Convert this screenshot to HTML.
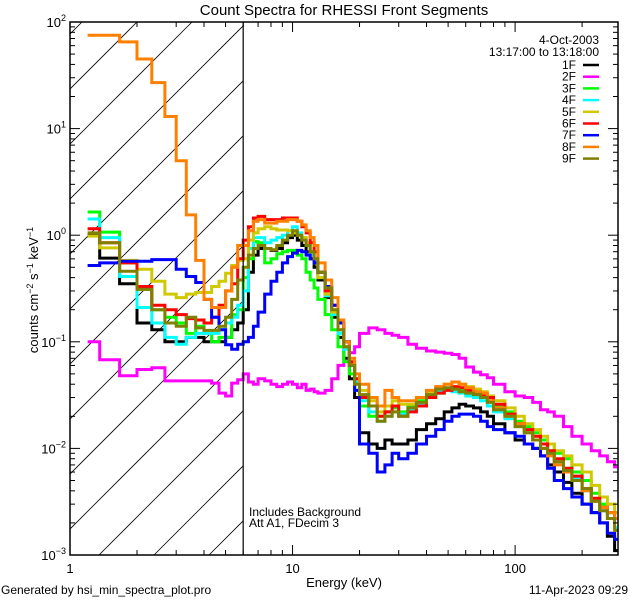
<!DOCTYPE html>
<html><head><meta charset="utf-8"><style>
body{margin:0;background:#fff}
svg text{font-family:"Liberation Sans",sans-serif;fill:#000}
</style></head><body>
<svg id="chart" width="640" height="600" viewBox="0 0 640 600" xmlns="http://www.w3.org/2000/svg">
<rect width="640" height="600" fill="#fff"/>
<text x="344" y="15" font-size="15" text-anchor="middle">Count Spectra for RHESSI Front Segments</text>
<g id="hatch"></g>
<g id="series"></g>
<g id="axes"></g>
<text x="344" y="587" font-size="13" text-anchor="middle">Energy (keV)</text>
<text transform="translate(38,290) rotate(-90)" font-size="13" text-anchor="middle">counts cm<tspan dy="-5" font-size="9">−2</tspan><tspan dy="5"> s</tspan><tspan dy="-5" font-size="9">−1</tspan><tspan dy="5"> keV</tspan><tspan dy="-5" font-size="9">−1</tspan></text>
<text x="599" y="44" font-size="12" text-anchor="end">4-Oct-2003</text>
<text x="599" y="56" font-size="12" text-anchor="end">13:17:00 to 13:18:00</text>
<g id="legend"></g>
<text x="249" y="516" font-size="12">Includes Background</text>
<text x="249" y="527" font-size="12">Att A1, FDecim 3</text>
<text x="1" y="594" font-size="12">Generated by hsi_min_spectra_plot.pro</text>
<text x="628" y="594" font-size="12" text-anchor="end">11-Apr-2023 09:29</text>
</svg>
<script>
const edges=[1.2,1.36,1.67,2.0,2.33,2.67,3.0,3.33,3.67,4.0,4.33,4.67,5.0,5.33,5.67,6.0,6.33,6.67,7,7.5,8,8.5,9,9.5,10,10.5,11,11.5,12,12.5,13,14,15,16,17,18,19,20,22,24,26,28,30,33,36,40,44,48,52,56,60,65,70,75,80,90,100,110,120,130,140,150,165,180,200,220,240,260,280,290];
const names=["1F","2F","3F","4F","5F","6F","7F","8F","9F"];
const colors=["#000000","#ff00ff","#00ff00","#00ffff","#d0c800","#ff0000","#0000ff","#ff8000","#808000"];
const s1F=[1.0,0.61,0.35,0.15,0.13,0.1,0.1,0.11,0.11,0.1,0.1,0.1,0.11,0.13,0.15,
0.2,0.45,0.65,0.75,0.75,0.72,0.75,0.85,0.95,1.0,0.9,0.8,0.7,0.6,0.5,0.38,0.26,0.17,0.11,0.07,0.045,0.03,
0.014,0.011,0.01,0.012,0.011,0.011,0.012,0.015,0.017,0.019,0.022,0.024,0.026,0.025,0.024,0.022,0.02,0.017,0.014,0.012,0.011,0.01,0.0085,0.007,0.006,0.0048,0.0038,0.003,0.0025,0.002,0.0015,0.0011];
const s2F=[0.1,0.068,0.048,0.055,0.057,0.043,0.043,0.043,0.043,0.043,0.041,0.033,0.031,0.041,0.044,
0.05,0.042,0.04,0.045,0.043,0.04,0.038,0.04,0.042,0.04,0.037,0.04,0.035,0.036,0.034,0.033,0.035,0.045,0.06,0.065,0.079,0.09,
0.12,0.135,0.13,0.12,0.115,0.11,0.095,0.087,0.082,0.08,0.078,0.076,0.07,0.058,0.052,0.049,0.046,0.04,0.034,0.031,0.03,0.027,0.023,0.022,0.02,0.016,0.013,0.011,0.0095,0.0085,0.0075,0.0067];
const s3F=[1.65,1.07,0.55,0.31,0.2,0.17,0.15,0.12,0.14,0.12,0.1,0.11,0.11,0.18,0.2,
0.4,0.6,0.87,0.85,0.55,0.6,0.67,0.7,0.72,0.72,0.65,0.6,0.45,0.38,0.32,0.25,0.18,0.13,0.09,0.065,0.05,0.035,
0.025,0.02,0.02,0.022,0.024,0.022,0.025,0.028,0.03,0.033,0.036,0.036,0.035,0.034,0.033,0.03,0.028,0.025,0.022,0.018,0.016,0.014,0.012,0.011,0.009,0.008,0.006,0.005,0.0038,0.003,0.0025,0.0022];
const s4F=[1.42,0.95,0.41,0.21,0.15,0.11,0.095,0.11,0.12,0.12,0.12,0.13,0.15,0.17,0.22,
0.3,0.75,0.95,0.95,0.85,0.9,0.95,1.0,1.1,1.2,1.05,0.95,0.8,0.65,0.55,0.4,0.27,0.18,0.12,0.085,0.06,0.042,
0.028,0.022,0.018,0.02,0.022,0.021,0.023,0.026,0.03,0.034,0.036,0.034,0.033,0.031,0.03,0.028,0.025,0.022,0.019,0.016,0.014,0.012,0.01,0.009,0.0075,0.0062,0.0052,0.004,0.0032,0.0026,0.0022,0.0018];
const s5F=[0.98,0.76,0.58,0.48,0.37,0.28,0.26,0.28,0.29,0.29,0.33,0.37,0.44,0.52,0.58,
0.6,0.9,1.05,1.15,1.2,1.15,1.12,1.12,1.1,1.05,1.0,0.95,0.85,0.7,0.55,0.4,0.28,0.19,0.13,0.09,0.062,0.045,
0.035,0.028,0.022,0.025,0.028,0.026,0.026,0.03,0.033,0.037,0.04,0.042,0.04,0.038,0.036,0.034,0.031,0.028,0.024,0.02,0.017,0.015,0.013,0.011,0.0095,0.0085,0.007,0.006,0.0045,0.0035,0.003,0.0025];
const s6F=[1.15,0.85,0.55,0.33,0.22,0.2,0.18,0.165,0.16,0.15,0.17,0.22,0.3,0.35,0.6,
0.9,1.2,1.45,1.5,1.4,1.4,1.4,1.45,1.45,1.45,1.35,1.2,1.05,0.85,0.7,0.45,0.3,0.22,0.15,0.1,0.065,0.045,
0.03,0.025,0.02,0.022,0.025,0.02,0.022,0.025,0.03,0.033,0.035,0.038,0.037,0.035,0.033,0.032,0.03,0.026,0.021,0.017,0.015,0.013,0.011,0.0095,0.008,0.0065,0.0055,0.0042,0.0034,0.0028,0.0025,0.0022];
const s7F=[0.52,0.55,0.57,0.57,0.59,0.59,0.48,0.41,0.36,0.25,0.17,0.13,0.094,0.085,0.095,
0.1,0.11,0.14,0.19,0.28,0.37,0.45,0.55,0.63,0.68,0.72,0.7,0.65,0.6,0.55,0.45,0.33,0.22,0.15,0.1,0.06,0.035,
0.011,0.009,0.006,0.007,0.009,0.008,0.009,0.011,0.013,0.015,0.018,0.02,0.021,0.021,0.02,0.018,0.016,0.015,0.014,0.013,0.011,0.01,0.0085,0.0065,0.005,0.0042,0.0035,0.003,0.0025,0.002,0.0016,0.0014];
const s8F=[75,75,65,45,27,13,5,1.55,0.58,0.25,0.21,0.21,0.3,0.5,0.8,
0.8,1.1,1.35,1.4,1.3,1.3,1.35,1.35,1.4,1.4,1.35,1.25,1.1,0.95,0.8,0.55,0.38,0.26,0.16,0.1,0.07,0.05,
0.04,0.03,0.025,0.035,0.03,0.028,0.028,0.03,0.035,0.038,0.04,0.042,0.04,0.037,0.034,0.033,0.028,0.024,0.02,0.017,0.014,0.012,0.01,0.0085,0.007,0.006,0.005,0.004,0.0032,0.0028,0.0025,0.0022];
const s9F=[1.05,0.85,0.46,0.31,0.2,0.15,0.14,0.17,0.135,0.128,0.128,0.14,0.17,0.25,0.38,
0.5,0.65,0.75,0.8,0.75,0.73,0.8,0.9,1.0,1.1,1.0,0.9,0.8,0.7,0.6,0.45,0.32,0.2,0.13,0.09,0.06,0.04,
0.032,0.025,0.018,0.02,0.022,0.02,0.024,0.027,0.032,0.036,0.037,0.036,0.034,0.033,0.032,0.03,0.027,0.023,0.02,0.016,0.014,0.012,0.01,0.009,0.0075,0.0062,0.005,0.0042,0.0032,0.0026,0.0022,0.0017];
const seriesData=[s1F,s2F,s3F,s4F,s5F,s6F,s7F,s8F,s9F];
const xTickLabels=["1","10","100"];
const yTickExps=[-3,-2,-1,0,1,2];
const attenEdge=6;

const NS="http://www.w3.org/2000/svg";
const L=70,R=618,T=22,B=555,XMIN=1,XMAX=290,YMIN=-3,YMAX=2;
const xs=e=>L+(R-L)*(Math.log10(e)-Math.log10(XMIN))/(Math.log10(XMAX)-Math.log10(XMIN));
const ys=v=>B-(B-T)*(Math.log10(Math.max(v,1e-4))-YMIN)/(YMAX-YMIN);
function mk(tag,attrs,parent){const el=document.createElementNS(NS,tag);for(const k in attrs)el.setAttribute(k,attrs[k]);parent.appendChild(el);return el;}

// clip
const defs=mk('defs',{},document.getElementById('chart'));
const cp=mk('clipPath',{id:'plotclip'},defs);
mk('rect',{x:L,y:T,width:R-L,height:B-T},cp);
const hp=mk('clipPath',{id:'hatchclip'},defs);
mk('rect',{x:L,y:T,width:xs(attenEdge)-L,height:B-T},hp);

// hatch
const hg=document.getElementById('hatch');
hg.setAttribute('clip-path','url(#hatchclip)');
for(let x0=99-55*10;x0<R;x0+=55){
  const ln=mk('line',{x1:x0,y1:B,x2:x0+(B-T),y2:T,stroke:'#000','stroke-width':0.8},hg);
  
  
}
const vl=mk('line',{x1:xs(attenEdge),y1:T,x2:xs(attenEdge),y2:B,stroke:'#000','stroke-width':1.2},hg.parentNode);



// series
const sg=document.getElementById('series');
sg.setAttribute('clip-path','url(#plotclip)');
seriesData.forEach((vals,i)=>{
  let d='';
  const n=Math.min(vals.length,edges.length-1);
  for(let k=0;k<n;k++){
    const x1=xs(edges[k]).toFixed(1),x2=xs(edges[k+1]).toFixed(1),y=ys(vals[k]).toFixed(1);
    d+=(k===0?'M':'L')+x1+','+y+'L'+x2+','+y;
  }
  const p=mk('path',{d:d,fill:'none',stroke:colors[i],'stroke-width':3,'stroke-linejoin':'miter'},sg);
  
  
});

// axes
const ag=document.getElementById('axes');
const fr=mk('rect',{x:L,y:T,width:R-L,height:B-T,fill:'none',stroke:'#000','stroke-width':1.5},ag);


for(let dec=0;dec<3;dec++){
  for(let m=1;m<10;m++){
    const e=Math.pow(10,dec)*m; if(e>XMAX) break;
    const x=xs(e),len=m===1?10:5;
    mk('line',{x1:x,y1:B,x2:x,y2:B-len,stroke:'#000','stroke-width':1},ag);
    mk('line',{x1:x,y1:T,x2:x,y2:T+len,stroke:'#000','stroke-width':1},ag);
  }
}
xTickLabels.forEach((lab,i)=>{
  const t=mk('text',{x:xs(Math.pow(10,i)),y:B+18,'font-size':13,'text-anchor':'middle'},ag);
  t.textContent=lab;
  
  
});
for(let ex=YMIN;ex<YMAX;ex++){
  for(let m=1;m<10;m++){
    const y=ys(Math.pow(10,ex)*m),len=m===1?10:5;
    mk('line',{x1:L,y1:y,x2:L+len,y2:y,stroke:'#000','stroke-width':1},ag);
    mk('line',{x1:R,y1:y,x2:R-len,y2:y,stroke:'#000','stroke-width':1},ag);
  }
}
yTickExps.forEach(ex=>{
  const t=mk('text',{x:L-4,y:ys(Math.pow(10,ex))+5,'font-size':13,'text-anchor':'end'},ag);
  const a=document.createElementNS(NS,'tspan');a.textContent='10';t.appendChild(a);
  const b=document.createElementNS(NS,'tspan');b.setAttribute('dy','-6');b.setAttribute('font-size','9');b.textContent=(ex<0?'−':'')+Math.abs(ex);t.appendChild(b);
  
  
});

// legend
const lg=document.getElementById('legend');
names.forEach((nm,i)=>{
  const y=65+i*11.7;
  const t=mk('text',{x:576,y:y+4,'font-size':12,'text-anchor':'end'},lg);
  t.textContent=nm;
  
  
  const l=mk('line',{x1:583,y1:y,x2:599,y2:y,stroke:colors[i],'stroke-width':2.5},lg);
  
  
});
</script>
</body></html>
